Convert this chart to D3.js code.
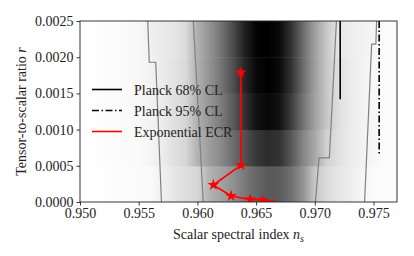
<!DOCTYPE html>
<html lang="en">
<head>
  <meta charset="UTF-8" />
  <title>ns - r plane</title>
  <script src="https://d3js.org/d3.v7.min.js" charset="utf-8"></script>
  <style>
    body { margin: 0; background: #fff; }
    text { font-family: "Liberation Serif", "DejaVu Serif", serif; fill: #222; }
  </style>
</head>
<body>
<script type="text/javascript">

const WIDTH = 414;
const HEIGHT = 256;
const margin = {top: 21, right: 17, bottom: 54, left: 80};

// heatmap columns (ns) and row bands (r)
const gridNs = [0.950, 0.951, 0.952, 0.953, 0.954, 0.955, 0.956, 0.957, 0.958, 0.959,
                0.960, 0.961, 0.962, 0.963, 0.964, 0.965, 0.966, 0.967, 0.968, 0.969,
                0.970, 0.971, 0.972, 0.973, 0.974, 0.975, 0.976, 0.977];
const bandR = [0, 0.0005, 0.0010, 0.0015, 0.0020, 0.0025];
// grey level for each band (bottom to top), 0 = white, 1 = black
const band0 = [0, 0, 0, 0.01, 0.01, 0.02, 0.02, 0.06, 0.10, 0.13, 0.16, 0.30, 0.36, 0.43, 0.52, 0.60, 0.65, 0.64, 0.56, 0.42, 0.22, 0.14, 0.10, 0.07, 0.04, 0.02, 0.01, 0.01];
const band1 = [0, 0, 0.01, 0.01, 0.02, 0.02, 0.04, 0.07, 0.12, 0.16, 0.30, 0.38, 0.46, 0.57, 0.68, 0.78, 0.83, 0.80, 0.66, 0.48, 0.34, 0.18, 0.12, 0.08, 0.05, 0.03, 0.01, 0.01];
const band2 = [0, 0, 0.01, 0.01, 0.02, 0.03, 0.05, 0.08, 0.12, 0.16, 0.31, 0.41, 0.51, 0.64, 0.80, 0.93, 0.97, 0.93, 0.76, 0.55, 0.37, 0.22, 0.13, 0.08, 0.05, 0.03, 0.01, 0.01];
const band3 = [0, 0, 0.01, 0.01, 0.02, 0.03, 0.05, 0.08, 0.11, 0.15, 0.31, 0.42, 0.54, 0.68, 0.85, 0.97, 1.00, 0.96, 0.80, 0.58, 0.38, 0.22, 0.12, 0.08, 0.05, 0.03, 0.01, 0.01];
const band4 = [0, 0, 0.01, 0.01, 0.02, 0.03, 0.06, 0.08, 0.10, 0.14, 0.31, 0.42, 0.54, 0.70, 0.87, 0.99, 1.00, 0.96, 0.80, 0.58, 0.38, 0.22, 0.10, 0.07, 0.05, 0.04, 0.01, 0.01];
const bands = [band0, band1, band2, band3, band4];

// grey contours, [ns, r]
const contourOuterLeft = [[0.95577, 0.0025], [0.95590, 0.00193], [0.95645, 0.00193], [0.95694, 0]];
const contourInnerLeft = [[0.95965, 0.0025], [0.96050, 0]];
const contourInnerRight = [[0.97184, 0.0025], [0.97124, 0.00061], [0.97036, 0.00061], [0.97005, 0]];
const contourOuterRight = [[0.97526, 0.0025], [0.97520, 0.00218], [0.97484, 0.00218], [0.97424, 0]];

// Planck limits
const planck68 = [[0.97216, 0.0025], [0.97216, 0.00142]];
const planck95 = [[0.97548, 0.0025], [0.97548, 0.00067]];

// Exponential ECR
const ecrNs = [0.96370, 0.96372, 0.96136, 0.96287, 0.96449, 0.96554, 0.96670];
const ecrR  = [0.00179, 0.00051, 0.000235, 0.000083, 0.000035, 0.000026, 0.000008];

const xTicks = [0.950, 0.955, 0.960, 0.965, 0.970, 0.975];
const yTicks = [0, 0.0005, 0.0010, 0.0015, 0.0020, 0.0025];

const legendItems = ["Planck 68% CL", "Planck 95% CL", "Exponential ECR"];

var svg = d3.select("body")
    .append("svg")
        .attr("width", WIDTH)
        .attr("height", HEIGHT);

const innerW = WIDTH - margin.left - margin.right;
const innerH = HEIGHT - margin.top - margin.bottom;

const xScale = d3.scaleLinear().domain([0.950, 0.977]).range([margin.left, margin.left + innerW]);
const yScale = d3.scaleLinear().domain([0, 0.0025]).range([margin.top + innerH, margin.top]);
const grey = d3.scaleLinear().domain([0, 1]).range(["#ffffff", "#000000"]);

var defs = svg.append("defs");
defs.append("clipPath").attr("id", "plot")
  .append("rect")
    .attr("x", margin.left).attr("y", margin.top)
    .attr("width", innerW).attr("height", innerH);

var plot = svg.append("g").attr("clip-path", "url(#plot)");

// heatmap: one horizontal gradient per r band
bands.forEach((vals, i) => {
    var grad = defs.append("linearGradient")
        .attr("id", "band" + i)
        .attr("gradientUnits", "userSpaceOnUse")
        .attr("x1", xScale(gridNs[0])).attr("x2", xScale(gridNs[gridNs.length - 1]))
        .attr("y1", 0).attr("y2", 0);
    grad.selectAll("stop")
        .data(vals)
        .enter().append("stop")
            .attr("offset", (d, j) => (gridNs[j] - gridNs[0]) / (gridNs[gridNs.length - 1] - gridNs[0]))
            .attr("stop-color", d => grey(d));
    plot.append("rect")
        .attr("x", xScale(gridNs[0]))
        .attr("width", xScale(gridNs[gridNs.length - 1]) - xScale(gridNs[0]))
        .attr("y", yScale(bandR[i + 1]))
        .attr("height", yScale(bandR[i]) - yScale(bandR[i + 1]) + 0.5)
        .attr("fill", "url(#band" + i + ")");
});

var line = d3.line()
    .x(d => xScale(d[0]))
    .y(d => yScale(d[1]));

[contourOuterLeft, contourInnerLeft, contourInnerRight, contourOuterRight].forEach(c => {
    plot.append("path")
        .attr("d", line(c))
        .attr("fill", "none")
        .attr("stroke", "#808080")
        .attr("stroke-width", 1.2);
});

plot.append("path")
    .attr("d", line(planck68))
    .attr("fill", "none")
    .attr("stroke", "#000")
    .attr("stroke-width", 1.6);
plot.append("path")
    .attr("d", line(planck95))
    .attr("fill", "none")
    .attr("stroke", "#000")
    .attr("stroke-width", 1.6)
    .attr("stroke-dasharray", "7,2.5,1.5,2.5");

var ecr = ecrNs.map((n, i) => [n, ecrR[i]]);
plot.append("path")
    .attr("d", line(ecr))
    .attr("fill", "none")
    .attr("stroke", "#ff0000")
    .attr("stroke-width", 1.7);
// last sample has no visible marker in the figure
plot.selectAll(".star")
    .data(ecr.slice(0, -1))
    .enter().append("path")
        .attr("class", "star")
        .attr("transform", d => `translate(${xScale(d[0])},${yScale(d[1])})`)
        .attr("d", d3.symbol().type(d3.symbolStar).size(42))
        .attr("fill", "#ff0000");

// frame
svg.append("rect")
    .attr("x", margin.left).attr("y", margin.top)
    .attr("width", innerW).attr("height", innerH)
    .attr("fill", "none")
    .attr("stroke", "#222")
    .attr("stroke-width", 0.9);

// axes
svg.append("g")
    .attr("transform", `translate(0, ${margin.top + innerH})`)
    .call(d3.axisBottom(xScale).tickValues(xTicks).tickFormat(d3.format(".3f")).tickSize(3.5).tickPadding(3))
    .call(g => g.select(".domain").remove())
    .call(g => g.selectAll(".tick line").attr("stroke", "#222").attr("stroke-width", 0.9))
    .call(g => g.selectAll(".tick text").attr("font-size", 14).attr("font-family", null).attr("fill", "#222"));

svg.append("g")
    .attr("transform", `translate(${margin.left}, 0)`)
    .call(d3.axisLeft(yScale).tickValues(yTicks).tickFormat(d3.format(".4f")).tickSize(3.5).tickPadding(3))
    .call(g => g.select(".domain").remove())
    .call(g => g.selectAll(".tick line").attr("stroke", "#222").attr("stroke-width", 0.9))
    .call(g => g.selectAll(".tick text").attr("font-size", 14).attr("font-family", null).attr("fill", "#222"));

// labels
var xl = svg.append("text")
    .attr("x", margin.left + innerW / 2)
    .attr("y", 239)
    .attr("text-anchor", "middle")
    .attr("font-size", 14);
xl.append("tspan").text("Scalar spectral index ");
xl.append("tspan").attr("font-style", "italic").text("n");
xl.append("tspan").attr("font-style", "italic").attr("font-size", 10).attr("dy", 3).text("s");

var yl = svg.append("text")
    .attr("transform", `translate(26, ${margin.top + innerH / 2}) rotate(-90)`)
    .attr("text-anchor", "middle")
    .attr("font-size", 14);
yl.append("tspan").text("Tensor-to-scalar ratio ");
yl.append("tspan").attr("font-style", "italic").text("r");

// legend
var legend = svg.append("g");
legendItems.forEach((name, i) => {
    var ly = 89.5 + i * 21;
    var l = legend.append("line")
        .attr("x1", 92).attr("x2", 122)
        .attr("y1", ly).attr("y2", ly)
        .attr("stroke", i == 2 ? "#ff0000" : "#000")
        .attr("stroke-width", 1.6);
    if (i == 1) l.attr("stroke-dasharray", "7,2.5,1.5,2.5");
    legend.append("text")
        .attr("x", 134)
        .attr("y", ly + 5)
        .attr("font-size", 14)
        .text(name);
});

</script>
</body>
</html>
